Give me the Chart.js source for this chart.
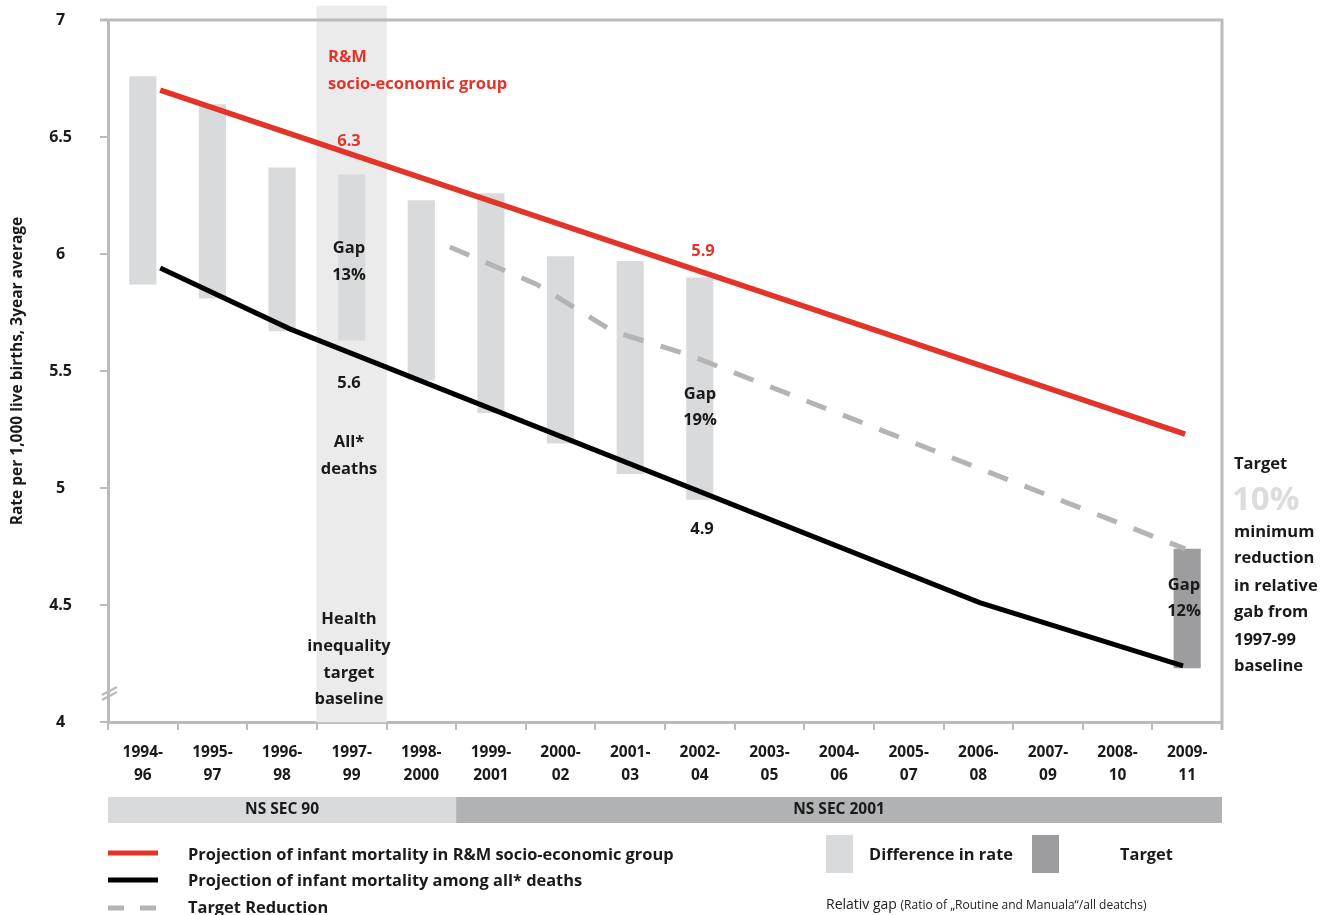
<!DOCTYPE html>
<html>
<head>
<meta charset="utf-8">
<script src="https://cdn.jsdelivr.net/npm/chart.js@4.4.1/dist/chart.umd.min.js"></script>
<style>
  body { margin: 0; background: #fff; }
  #wrap { position: relative; width: 1325px; height: 915px; }
</style>
</head>
<body>
<div id="wrap"><canvas id="chart"></canvas></div>
<script>
// periods (3 year averages)
var periods = [
  ['1994-', '96'], ['1995-', '97'], ['1996-', '98'], ['1997-', '99'], ['1998-', '2000'],
  ['1999-', '2001'], ['2000-', '02'], ['2001-', '03'], ['2002-', '04'], ['2003-', '05'],
  ['2004-', '06'], ['2005-', '07'], ['2006-', '08'], ['2007-', '09'], ['2008-', '10'], ['2009-', '11']
];
var yTicks = [4, 4.5, 5, 5.5, 6, 6.5, 7];

// difference in rate (floating bars, low / high)
var diffLow  = [5.87, 5.81, 5.67, 5.63, 5.46, 5.32, 5.19, 5.06, 4.95, null, null, null, null, null, null, null];
var diffHigh = [6.76, 6.64, 6.37, 6.34, 6.23, 6.26, 5.99, 5.97, 5.90, null, null, null, null, null, null, null];
// target gap at 2009-11
var targetLow  = [null, null, null, null, null, null, null, null, null, null, null, null, null, null, null, 4.23];
var targetHigh = [null, null, null, null, null, null, null, null, null, null, null, null, null, null, null, 4.74];
// 1997-99 baseline band
var baselineLow  = [null, null, null, 4, null, null, null, null, null, null, null, null, null, null, null, null];
var baselineHigh = [null, null, null, 7.06, null, null, null, null, null, null, null, null, null, null, null, null];

// projection lines (x = period index)
var rmX = [0.25, 14.97];
var rmRate = [6.70, 5.23];
var allX = [0.25, 2.11, 12.02, 14.94];
var allRate = [5.94, 5.68, 4.51, 4.24];
var targetX = [4.41, 5.66, 6.75, 7.83, 14.97];
var targetRate = [6.03, 5.87, 5.67, 5.57, 4.74];

var RED = '#e3342a', GREY_BAR = '#d9dadc', BAND = '#ebebeb', TARGET = '#9d9d9f', AXIS = '#bbbbbb', DASH = '#b4b4b4';
var FONT = '"Open Sans"';

function pairs(lo, hi) { return lo.map(function (v, i) { return v == null ? null : [v, hi[i]]; }); }
function xy(xs, ys) { return xs.map(function (v, i) { return { x: v, y: ys[i] }; }); }

function txt(ctx, s, x, y, size, color, align, weight) {
  ctx.font = (weight || 'bold') + ' ' + size + 'px ' + FONT;
  ctx.fillStyle = color || '#1a1a1a';
  ctx.textAlign = align || 'center';
  ctx.textBaseline = 'middle';
  ctx.fillText(s, x, y);
}

var decor = {
  id: 'decor',
  afterDraw: function (chart) {
    var ctx = chart.ctx, a = chart.chartArea, xs = chart.scales.x;
    ctx.save();
    // frame top + right
    ctx.strokeStyle = AXIS; ctx.lineWidth = 3;
    ctx.beginPath();
    ctx.moveTo(a.left - 8, a.top); ctx.lineTo(a.right, a.top); ctx.lineTo(a.right, a.bottom + 8);
    ctx.stroke();
    // axis break
    ctx.lineWidth = 2;
    ctx.beginPath();
    ctx.moveTo(a.left - 6, a.bottom - 27); ctx.lineTo(a.left + 9, a.bottom - 35);
    ctx.moveTo(a.left - 6, a.bottom - 22); ctx.lineTo(a.left + 9, a.bottom - 30);
    ctx.stroke();

    // NS SEC bands under axis
    var split = (xs.getPixelForValue(4) + xs.getPixelForValue(5)) / 2;
    ctx.fillStyle = '#d9dadc'; ctx.fillRect(a.left, 797, split - a.left, 26);
    ctx.fillStyle = '#b1b2b4'; ctx.fillRect(split, 797, a.right - split, 26);
    txt(ctx, 'NS SEC 90', (a.left + split) / 2, 810, 15.5);
    txt(ctx, 'NS SEC 2001', (split + a.right) / 2, 810, 15.5);

    // annotations in the plot
    txt(ctx, 'R&M', 328, 57, 16.5, RED, 'left');
    txt(ctx, 'socio-economic group', 328, 84, 16.5, RED, 'left');
    txt(ctx, '6.3', 349, 141, 16.5, RED);
    txt(ctx, 'Gap', 349, 248, 16.5); txt(ctx, '13%', 349, 275, 16.5);
    txt(ctx, '5.6', 349, 383, 16.5);
    txt(ctx, 'All*', 349, 442, 16.5); txt(ctx, 'deaths', 349, 469, 16.5);
    txt(ctx, 'Health', 349, 619, 16.5); txt(ctx, 'inequality', 349, 646, 16.5);
    txt(ctx, 'target', 349, 673, 16.5); txt(ctx, 'baseline', 349, 699, 16.5);
    txt(ctx, '5.9', 703, 251, 16.5, RED);
    txt(ctx, 'Gap', 700, 394, 16.5); txt(ctx, '19%', 700, 420, 16.5);
    txt(ctx, '4.9', 702, 529, 16.5);
    txt(ctx, 'Gap', 1184, 585, 16.5); txt(ctx, '12%', 1184, 611, 16.5);

    // right side note
    txt(ctx, 'Target', 1234, 464, 16.5, null, 'left');
    txt(ctx, '10%', 1232, 501, 33, '#dcdcdc', 'left');
    var note = ['minimum', 'reduction', 'in relative', 'gab from', '1997-99', 'baseline'];
    var ny = [532, 558, 586, 612, 640, 666];
    note.forEach(function (s, i) { txt(ctx, s, 1234, ny[i], 16.5, null, 'left'); });

    // legend
    ctx.lineWidth = 5; ctx.lineCap = 'butt';
    ctx.strokeStyle = RED; ctx.beginPath(); ctx.moveTo(108, 853); ctx.lineTo(158, 853); ctx.stroke();
    ctx.strokeStyle = '#000'; ctx.beginPath(); ctx.moveTo(108, 880); ctx.lineTo(158, 880); ctx.stroke();
    ctx.strokeStyle = DASH; ctx.setLineDash([16, 16]); ctx.beginPath(); ctx.moveTo(108, 908); ctx.lineTo(158, 908); ctx.stroke();
    ctx.setLineDash([]);
    txt(ctx, 'Projection of infant mortality in R&M socio-economic group', 188, 855, 16.4, null, 'left');
    txt(ctx, 'Projection of infant mortality among all* deaths', 188, 881, 16.4, null, 'left');
    txt(ctx, 'Target Reduction', 188, 908, 16.4, null, 'left');
    ctx.fillStyle = GREY_BAR; ctx.fillRect(826, 835, 27, 38);
    ctx.fillStyle = TARGET; ctx.fillRect(1032, 835, 27, 38);
    txt(ctx, 'Difference in rate', 869, 855, 16.4, null, 'left');
    txt(ctx, 'Target', 1120, 855, 16.4, null, 'left');
    txt(ctx, 'Relativ gap', 826, 905, 14, '#222', 'left', 'normal');
    ctx.font = 'normal 14px ' + FONT;
    var w = ctx.measureText('Relativ gap ').width;
    txt(ctx, '(Ratio of \u201eRoutine and Manuala\u201c/all deatchs)', 826 + w, 906, 12, '#222', 'left', 'normal');
    ctx.restore();
  }
};

Chart.defaults.font.family = FONT;
Chart.defaults.color = '#1a1a1a';

new Chart(document.getElementById('chart'), {
  type: 'bar',
  data: {
    labels: periods,
    datasets: [
      { type: 'line', label: 'R&M', data: xy(rmX, rmRate), xAxisID: 'x2', borderColor: RED, borderWidth: 5.5,
        pointRadius: 0, tension: 0, order: 0 },
      { type: 'line', label: 'All', data: xy(allX, allRate), xAxisID: 'x2', borderColor: '#000', borderWidth: 5,
        pointRadius: 0, tension: 0, order: 0 },
      { type: 'line', label: 'Target reduction', data: xy(targetX, targetRate), xAxisID: 'x2', borderColor: DASH,
        borderWidth: 5, borderDash: [21, 18], pointRadius: 0, tension: 0, order: 0 },
      { label: 'Difference in rate', data: pairs(diffLow, diffHigh), backgroundColor: GREY_BAR, grouped: false,
        barPercentage: 0.39, categoryPercentage: 1, order: 1 },
      { label: 'Target', data: pairs(targetLow, targetHigh), backgroundColor: TARGET, grouped: false,
        barPercentage: 0.39, categoryPercentage: 1, order: 1 },
      { label: 'Baseline', data: pairs(baselineLow, baselineHigh), backgroundColor: BAND, grouped: false,
        barPercentage: 1, categoryPercentage: 1, order: 2, clip: false }
    ]
  },
  options: {
    responsive: true,
    maintainAspectRatio: false,
    animation: false,
    layout: { padding: { top: 20, right: 103, left: 0, bottom: 0 } },
    plugins: { legend: { display: false }, tooltip: { enabled: false } },
    scales: {
      x: {
        type: 'category',
        z: 1,
        afterFit: function (s) { s.height = 193; s.paddingLeft = 0; s.paddingRight = 0; },
        border: { color: AXIS, width: 3 },
        grid: { offset: true, drawOnChartArea: false, drawTicks: true, tickLength: 8, color: AXIS, lineWidth: 2 },
        ticks: { padding: 11, maxRotation: 0, autoSkip: false, font: { size: 15.5, weight: 'bold', lineHeight: 1.5 }, color: '#1a1a1a' }
      },
      x2: { type: 'linear', min: -0.5, max: 15.5, offset: false, display: false },
      y: {
        min: 4, max: 7,
        afterFit: function (s) { s.width = 108; s.paddingTop = 0; s.paddingBottom = 0; },
        afterBuildTicks: function (s) { s.ticks = yTicks.map(function (v) { return { value: v }; }); },
        border: { color: AXIS, width: 3 },
        grid: { drawOnChartArea: false, drawTicks: true, tickLength: 8, color: AXIS, lineWidth: 2 },
        ticks: { crossAlign: 'center', padding: 28, font: { size: 16, weight: 'bold' }, color: '#1a1a1a',
          callback: function (v) { return String(v); } },
        title: { display: true, text: 'Rate per 1,000 live births, 3year average', padding: { top: 8, bottom: 0 },
          font: { size: 15.5, weight: 'bold' }, color: '#1a1a1a' }
      }
    }
  },
  plugins: [decor]
});
</script>
</body>
</html>
